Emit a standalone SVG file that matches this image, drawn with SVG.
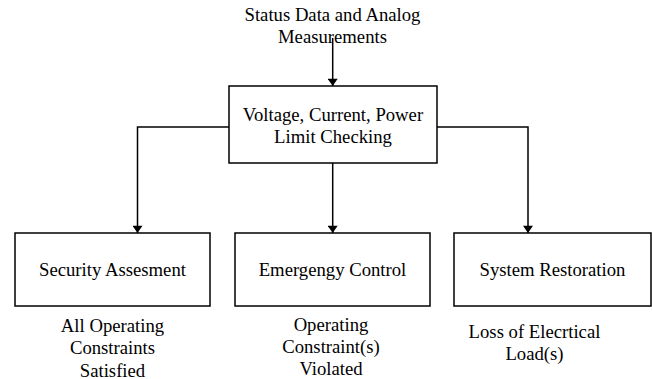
<svg xmlns="http://www.w3.org/2000/svg" width="652" height="379" viewBox="0 0 652 379">
<style>
text{font-size:18.7px;fill:#000;text-anchor:middle}
.box{fill:#fff;stroke:#000;stroke-width:1.5}
.conn{fill:none;stroke:#000;stroke-width:1.5}
</style>
<defs>
<marker id="arr" viewBox="0 0 10 14" refX="10" refY="7" markerWidth="14" markerHeight="10" markerUnits="userSpaceOnUse" orient="auto">
<path d="M0,0 L10,7 L0,14 z" fill="#000"/>
</marker>
</defs>
<rect width="652" height="379" fill="#fff"/>
<g id="connectors">
<line class="conn" x1="332.7" y1="38" x2="332.7" y2="86" marker-end="url(#arr)"/>
<polyline class="conn" points="229,127 137.5,127 137.5,233" marker-end="url(#arr)"/>
<line class="conn" x1="332.7" y1="163" x2="332.7" y2="233" marker-end="url(#arr)"/>
<polyline class="conn" points="437,127 528,127 528,233" marker-end="url(#arr)"/>
</g>
<g font-family="Liberation Serif, DejaVu Serif, serif">
<g id="input">
<text x="332.5" y="21">Status Data and Analog</text>
<text x="332.5" y="43">Measurements</text>
</g>
<g id="limit-checking">
<rect class="box" x="229" y="86" width="208" height="77"/>
<text x="333" y="121">Voltage, Current, Power</text>
<text x="333" y="143">Limit Checking</text>
</g>
<g id="security">
<rect class="box" x="15" y="233" width="195" height="73"/>
<text x="112.5" y="276">Security Assesment</text>
<text x="112.5" y="331.5">All Operating</text>
<text x="112.5" y="354">Constraints</text>
<text x="112.5" y="376.5">Satisfied</text>
</g>
<g id="emergency">
<rect class="box" x="235" y="233" width="195" height="73"/>
<text x="332.5" y="276">Emergengy Control</text>
<text x="331" y="331">Operating</text>
<text x="331" y="353">Constraint(s)</text>
<text x="331" y="375">Violated</text>
</g>
<g id="restoration">
<rect class="box" x="454" y="233" width="197" height="73"/>
<text x="552.5" y="276">System Restoration</text>
<text x="534.5" y="338">Loss of Elecrtical</text>
<text x="534.5" y="360">Load(s)</text>
</g>
</g>
</svg>
